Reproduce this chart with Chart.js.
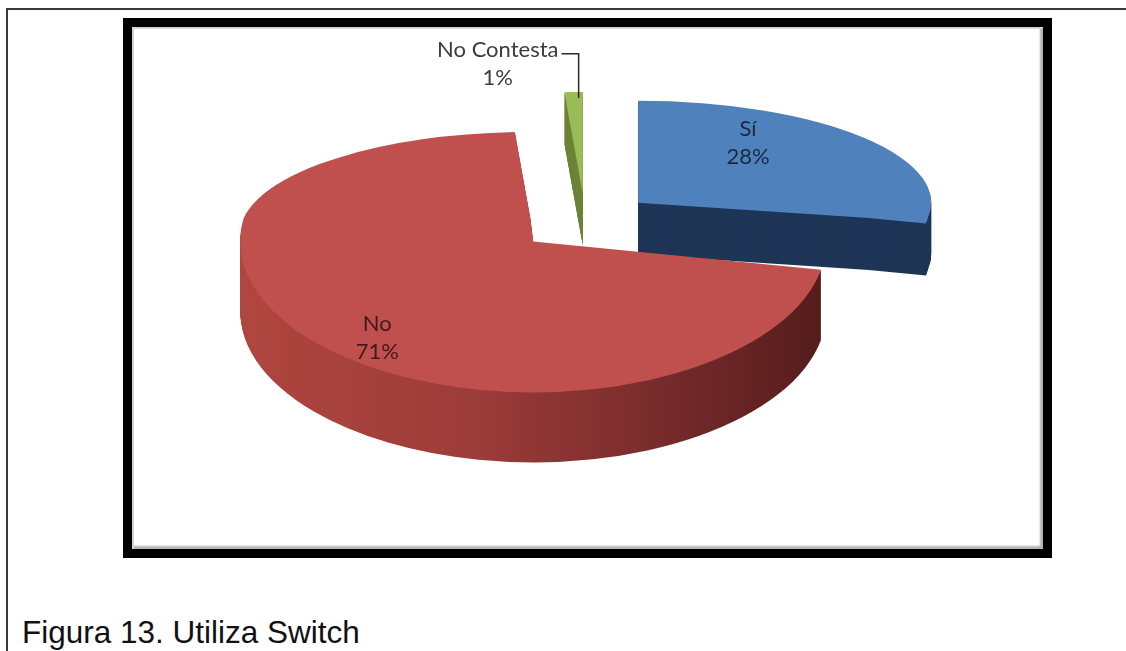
<!DOCTYPE html>
<html>
<head>
<meta charset="utf-8">
<script src="https://cdn.jsdelivr.net/npm/chart.js@4.4.0/dist/chart.umd.min.js"></script>
<style>
  html, body { margin: 0; padding: 0; background: #fff; }
  body { width: 1126px; height: 651px; position: relative; overflow: hidden; }
  #frame {
    position: absolute; left: 6px; top: 8px; width: 1120px; height: 643px;
    border-top: 2px solid #3a3a3a; border-left: 2px solid #3a3a3a; box-sizing: border-box;
  }
  #box {
    position: absolute; left: 123px; top: 18px; width: 929px; height: 540px;
    border: 9px solid #000; box-sizing: border-box; background: #fff;
    box-shadow: inset 2px 2px 0 #d4d4d4, inset -3px -3px 2px #b4b4b4;
  }
  #caption {
    position: absolute; left: 22px; top: 616px; margin: 0;
    font: 31.5px "Liberation Sans", Arial, sans-serif; line-height: 32px; color: #111;
  }
  #chart { position: absolute; left: 0; top: 0; }
</style>
</head>
<body>
<div id="frame"></div>
<div id="box"></div>
<p id="caption">Figura 13. Utiliza Switch</p>
<canvas id="chart" width="1126" height="651"></canvas>

<script>
/* =========================
   DATA
   ========================= */
const labels = ["Sí", "No", "No Contesta"];
const values = [28, 71, 1];

/* =========================
   3D LOOK
   ========================= */
const cyScreen = 218;      // screen line where the pie centre sits
const kTop = 0.348;        // vertical squash of the far half
const kBottom = 0.515;     // vertical squash of the near half
const explode = 69;
const topColors = ["#4f81bd", "#c0504d", "#9bbb59"];
const sideColors = ["#1f3556", null, "#6b8538"];

// per label: angle shift (deg) and radius fraction
const labelShift = [-18, -8.7, -11];
const labelFrac = [0.70, 0.83, 1.31];

function sliceOffset(el) {
  const mid = (el.startAngle + el.endAngle) / 2;
  return { x: Math.cos(mid) * explode, y: Math.sin(mid) * explode, mid };
}

function drawSquashed(ctx, chart, el, off, d, color) {
  const W = chart.width, H = chart.height;
  const line = cyScreen + d;
  const parts = [[kTop, 0, line], [kBottom, line, H]];
  for (const [k, y0, y1] of parts) {
    ctx.save();
    ctx.beginPath();
    ctx.rect(0, y0, W, y1 - y0);
    ctx.clip();
    ctx.translate(off.x, line);
    ctx.scale(1, k);
    ctx.translate(0, off.y - el.y);
    const saved = el.options;
    el.options = Object.assign({}, saved, { backgroundColor: color });
    el.draw(ctx);
    el.options = saved;
    ctx.restore();
  }
}

function project(el, off, ang, rad) {
  const ux = el.x + off.x + Math.cos(ang) * rad;
  const uy = off.y + Math.sin(ang) * rad;
  return { x: ux, y: cyScreen + uy * (uy < 0 ? kTop : kBottom) };
}

const pie3d = {
  id: "pie3d",
  beforeDatasetsDraw(chart) {
    const ctx = chart.ctx;
    const arcs = chart.getDatasetMeta(0).data.map((el, i) => ({ el, i, off: sliceOffset(el) }));
    arcs.sort((a, b) => Math.sin(a.off.mid) - Math.sin(b.off.mid));
    arcs.forEach(({ el, i, off }) => {
      const front = Math.sin(off.mid) > 0;
      const depth = front ? 70 : 52;
      let side = sideColors[i];
      if (!side) {
        const g = ctx.createLinearGradient(237 - off.x, 0, 830 - off.x, 0);
        g.addColorStop(0, "#b0463f");
        g.addColorStop(0.4, "#9c3c39");
        g.addColorStop(0.75, "#73292a");
        g.addColorStop(1, "#531c1c");
        side = g;
      }
      for (let d = depth; d >= 1; d--) drawSquashed(ctx, chart, el, off, d, side);
      drawSquashed(ctx, chart, el, off, 0, topColors[i]);
    });
    return false;
  },
  afterDraw(chart) {
    const ctx = chart.ctx;
    const total = values.reduce((a, b) => a + b, 0);
    chart.getDatasetMeta(0).data.forEach((el, i) => {
      const off = sliceOffset(el);
      const p = project(el, off, off.mid + labelShift[i] * Math.PI / 180, labelFrac[i] * el.outerRadius);
      const pct = Math.round(values[i] / total * 100) + "%";
      const inside = labelFrac[i] <= 1;
      ctx.save();
      ctx.font = "22px Lato, 'Open Sans', sans-serif";
      ctx.textAlign = "center";
      ctx.textBaseline = "middle";
      ctx.fillStyle = inside ? "rgba(0,0,0,0.68)" : "#3c3c3c";
      ctx.fillText(labels[i], p.x, p.y - 14);
      ctx.fillText(pct, p.x, p.y + 14);
      if (!inside) {
        // leader line down to the slice
        const tip = project(el, off, off.mid, el.outerRadius);
        const w = ctx.measureText(labels[i]).width;
        const lx = p.x + w / 2 + 3, ly = p.y - 10;
        ctx.strokeStyle = "#2a2a2a";
        ctx.lineWidth = 1.5;
        ctx.beginPath();
        ctx.moveTo(lx, ly);
        ctx.lineTo(tip.x + 5, ly);
        ctx.lineTo(tip.x + 5, tip.y + 6);
        ctx.stroke();
      }
      ctx.restore();
    });
  }
};

new Chart(document.getElementById("chart"), {
  type: "pie",
  data: {
    labels: labels,
    datasets: [{
      data: values,
      backgroundColor: topColors,
      borderWidth: 0,
      hoverBorderWidth: 0,
      hoverOffset: 0,
      offset: 0
    }]
  },
  options: {
    responsive: false,
    devicePixelRatio: 1,
    animation: false,
    events: [],
    layout: { padding: { left: 292, right: 248, top: 32, bottom: 33 } },
    plugins: { legend: { display: false }, tooltip: { enabled: false } }
  },
  plugins: [pie3d]
});
</script>
</body>
</html>
